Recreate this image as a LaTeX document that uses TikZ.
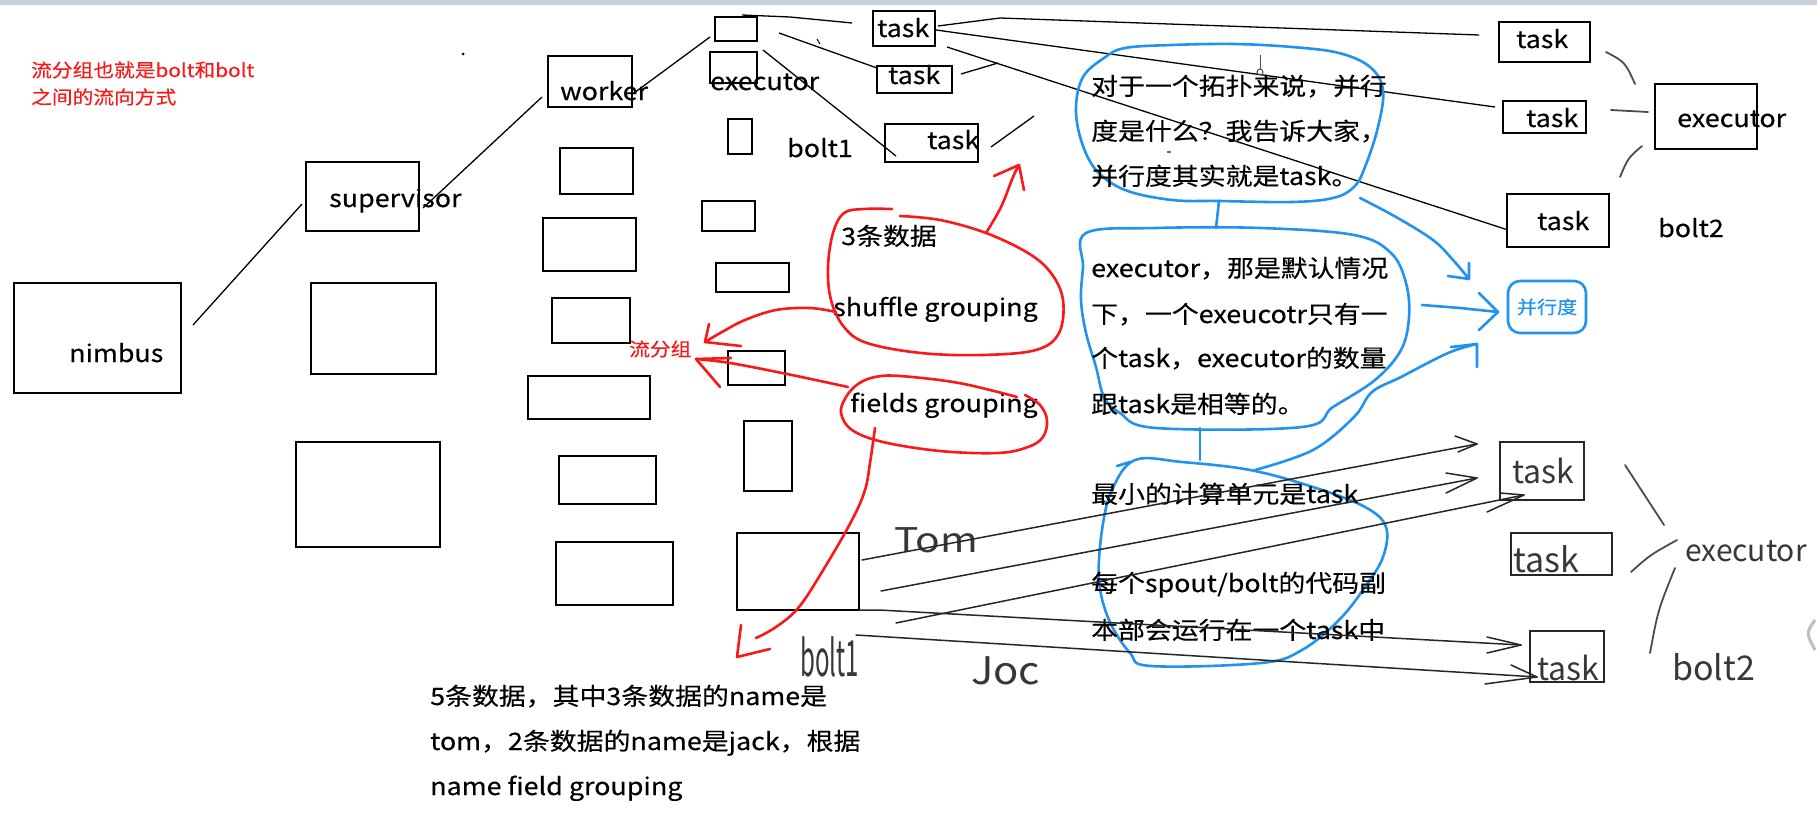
\documentclass[tikz,border=0pt]{standalone}
\usepackage{fontspec}
\usepackage{graphicx}
\setmainfont{Noto Sans CJK SC}[FakeStretch=1.12,FakeBold=0.3]
\newfontfamily\handfont{Noto Sans CJK SC}
\usetikzlibrary{fit}
\definecolor{penred}{RGB}{250,24,24}
\definecolor{penblue}{RGB}{32,146,240}
\definecolor{topbar}{RGB}{200,208,218}
\definecolor{handgray}{RGB}{55,55,55}
\begin{document}
\begin{tikzpicture}[x=1pt,y=-1pt,
  box/.style={draw=black, line width=1.8pt, inner sep=0pt, fit={#1}},
  hbox/.style={draw=black!85, line width=1.8pt, inner sep=0pt, fit={#1}},
  txt/.style={anchor=base west, inner sep=0pt, font=\fontsize{24}{28}\selectfont, text=black},
  rtxt/.style={anchor=base west, inner sep=0pt, font=\fontsize{18.5}{22}\selectfont, text=penred},
  htxt/.style={anchor=base west, inner sep=0pt, text=handgray},
  conn/.style={draw=black, line width=1.3pt},
  handline/.style={draw=black!85, line width=1.5pt, line cap=round, line join=round},
  graystroke/.style={draw=black!70, line width=1.8pt, line cap=round},
  redpen/.style={draw=penred, line width=2.6pt, line cap=round, line join=round},
  bluepen/.style={draw=penblue, line width=2.6pt, line cap=round, line join=round}]
\useasboundingbox (0,0) rectangle (1817,816);
\fill[white] (0,0) rectangle (1817,816);
\fill[topbar] (0,0) rectangle (1817,5);

% ---------- red note top-left
\node[rtxt] (note1) at (31,77) {流分组也就是bolt和bolt};
\node[rtxt] (note2) at (31,104) {之间的流向方式};
\fill (463,54) circle (1.5);

% ---------- nimbus / supervisor
\node[box={(14,283) (181,393)}] (nimbusbox) {};
\node[txt] (nimbus) at (69,362) {nimbus};
\node[box={(306,162) (419,231)}] (supbox) {};
\node[txt] (sup) at (329,207) {supervisor};
\node[box={(311,283) (436,374)}] (s2) {};
\node[box={(296,442) (440,547)}] (s3) {};

% ---------- worker column
\node[box={(548,56) (632,107)}] (workerbox) {};
\node[txt] (worker) at (560,100) {worker};
\node[box={(560,148) (633,194)}] (w2) {};
\node[box={(543,218) (636,271)}] (w3) {};
\node[box={(552,298) (630,343)}] (w4) {};
\node[box={(528,376) (650,419)}] (w5) {};
\node[box={(559,456) (656,504)}] (w6) {};
\node[box={(556,542) (673,605)}] (w7) {};

% ---------- executor column
\node[box={(715,17) (757,41)}] (e1) {};
\node[box={(710,52) (757,83)}] (e2) {};
\node[txt] (exec1) at (710,90) {executor};
\node[box={(728,119) (752,154)}] (e3) {};
\node[txt] (bolt1) at (787,157) {bolt1};
\node[box={(702,201) (755,231)}] (e4) {};
\node[box={(716,263) (789,292)}] (e5) {};
\node[box={(728,351) (785,385)}] (e6) {};
\node[box={(744,421) (792,491)}] (e7) {};
\node[box={(737,533) (859,610)}] (e8) {};

% ---------- bolt1 tasks
\node[box={(873,11) (935,46)}] (t1) {};
\node[txt] (t1t) at (877,37) {task};
\node[box={(877,66) (952,93)}] (t2) {};
\node[txt] (t2t) at (888,84) {task};
\node[box={(885,124) (978,162)}] (t3) {};
\node[txt] (t3t) at (927,149) {task};

% ---------- bolt2 tasks
\node[box={(1499,22) (1590,62)}] (u1) {};
\node[txt] (u1t) at (1516,48) {task};
\node[box={(1503,101) (1586,133)}] (u2) {};
\node[txt] (u2t) at (1526,127) {task};
\node[box={(1507,194) (1609,247)}] (u3) {};
\node[txt] (u3t) at (1537,230) {task};
\node[box={(1655,84) (1757,149)}] (ex2) {};
\node[txt] (ex2t) at (1677,127) {executor};
\node[txt] (bolt2) at (1658,237) {bolt2};

% ---------- black connectors
\coordinate (a1) at (193,325); \coordinate (a2) at (302,204);
\draw[conn] (a1) -- (a2);
\coordinate (b1) at (423,208); \coordinate (b2) at (542,97);
\draw[conn] (b1) -- (b2);
\coordinate (c1) at (634,93); \coordinate (c2) at (710,37);
\draw[conn] (c1) -- (c2);
\coordinate (d1) at (742,15); \coordinate (d2) at (852,23);
\draw[conn] (d1) -- (790,17) -- (d2);
\coordinate (f1) at (779,33); \coordinate (f2) at (877,68);
\draw[conn] (f1) -- (f2);
\coordinate (g1) at (763,50); \coordinate (g2) at (896,156);
\draw[conn] (g1) -- (g2);
\coordinate (h1) at (991,147); \coordinate (h2) at (1034,116);
\draw[conn] (h1) -- (h2);
\coordinate (i1) at (961,74); \coordinate (i2) at (998,63);
\draw[conn] (i1) -- (i2);
\draw[conn, line width=1pt] (817,39) -- (820,44);
\coordinate (j1) at (938,26); \coordinate (j2) at (1479,35);
\draw[conn] (j1) -- (1000,18) -- (j2);
\coordinate (k1) at (936,30); \coordinate (k2) at (1495,107);
\draw[conn] (k1) -- (k2);
\coordinate (l1) at (947,47); \coordinate (l2) at (1508,230);
\draw[conn] (l1) -- (l2);

% curves to bolt2 executor
\coordinate (m1) at (1606,52); \coordinate (m2) at (1635,84);
\draw[graystroke] (m1) .. controls (1625,62) .. (m2);
\coordinate (m3) at (1611,110); \coordinate (m4) at (1648,112);
\draw[graystroke] (m3) -- (m4);
\coordinate (m5) at (1642,146); \coordinate (m6) at (1620,177);
\draw[graystroke] (m5) .. controls (1628,158) .. (m6);

% ---------- blue bubbles
\draw[bluepen] plot[smooth cycle, tension=0.6] coordinates {(1125,48) (1172,45) (1234,44) (1292,47) (1339,53) (1370,67) (1383,90) (1378,127) (1365,167) (1354,187) (1333,198) (1292,202) (1219,201) (1172,200) (1125,190) (1096,170) (1081,140) (1076,107) (1083,77) (1104,58)};
\draw[bluepen] plot[smooth cycle, tension=0.6] coordinates {(1086,233) (1156,228) (1261,228) (1354,235) (1391,253) (1406,283) (1409,317) (1401,350) (1375,380) (1333,407) (1302,427) (1156,428) (1120,413) (1104,397) (1096,367) (1086,333) (1081,300) (1083,267)};
\draw[bluepen] plot[smooth cycle, tension=0.6] coordinates {(1135,460) (1182,462) (1250,470) (1313,487) (1365,507) (1386,527) (1383,557) (1365,587) (1339,620) (1302,650) (1261,663) (1151,666) (1130,653) (1109,620) (1099,580) (1102,530) (1112,490)};
\draw[bluepen] (1117,466) -- (1130,462);
\coordinate (bb1) at (1219,201); \coordinate (bb2) at (1216,228);
\draw[bluepen] (bb1) -- (bb2);
\coordinate (bb3) at (1200,428); \coordinate (bb4) at (1200,460);
\draw[bluepen] (bb3) -- (bb4);

% bubble texts
\node[txt] (p1) at (1091,95) {对于一个拓扑来说，并行};
\node[txt] (p2) at (1091,140) {度是什么？我告诉大家，};
\node[txt] (p3) at (1091,185) {并行度其实就是task。};
\node[txt] (q1) at (1091,277) {executor，那是默认情况};
\node[txt] (q2) at (1091,323) {下，一个exeucotr只有一};
\node[txt] (q3) at (1091,367) {个task，executor的数量};
\node[txt] (q4) at (1091,413) {跟task是相等的。};
\node[txt] (r1) at (1091,503) {最小的计算单元是task};
\node[txt] (r2) at (1091,592) {每个spout/bolt的代码副};
\node[txt] (r3) at (1091,639) {本部会运行在一个task中};

% cursor mark
\draw[black!70, line width=1pt] (1260,55) -- (1260,69);
\draw[black!70, line width=1pt] (1260,72) circle (3);
\draw[black!60, line width=1.5pt] (1167,152) -- (1171,152);

% parallelism box
\node[draw=penblue, line width=2.6pt, rounded corners=12pt, minimum width=78pt, minimum height=52pt, inner sep=0pt, text=penblue, font=\fontsize{18}{22}\selectfont] (para) at (1547,307) {并行度};
\coordinate (ba1) at (1360,198); \coordinate (ba2) at (1469,279);
\draw[bluepen] plot[smooth, tension=0.6] coordinates {(ba1) (1396,217) (1433,240) (1453,260) (ba2)};
\draw[bluepen] (1448,276) -- (ba2) -- (1469,263);
\coordinate (bc1) at (1422,305); \coordinate (bc2) at (1498,312);
\draw[bluepen] (bc1) -- (1460,308) -- (bc2);
\draw[bluepen] (1479,293) -- (bc2) -- (1479,330);
\coordinate (bd1) at (1255,470); \coordinate (bd2) at (1477,344);
\draw[bluepen] plot[smooth, tension=0.6] coordinates {(bd1) (1313,450) (1354,417) (1372,392) (1401,377) (1448,353) (bd2)};
\draw[bluepen] (1451,347) -- (bd2) -- (1477,367);

% ---------- red marks
\node[txt] (three) at (841,245) {3条数据};
\node[txt] (shuffle) at (833,316) {shuffle grouping};
\node[txt] (fields) at (850,412) {fields grouping};
\node[rtxt] (liu) at (629,356) {流分组};
\draw[redpen] plot[smooth, tension=0.6] coordinates {(892,209) (864,209) (844,213) (833,233) (828,267) (831,300) (844,327) (867,343) (921,353) (982,355) (1036,350) (1059,333) (1063,300) (1051,273) (1028,253) (986,233) (940,220) (900,216)};
\coordinate (ra1) at (986,233); \coordinate (ra2) at (1019,165);
\draw[redpen] plot[smooth, tension=0.6] coordinates {(ra1) (1001,207) (1013,177) (ra2)};
\draw[redpen] (994,176) -- (ra2) -- (1024,190);
\coordinate (rb1) at (836,312); \coordinate (rb2) at (705,342);
\draw[redpen] plot[smooth, tension=0.6] coordinates {(rb1) (810,308) (776,310) (745,320) (722,332) (rb2)};
\draw[redpen] (709,324) -- (rb2) -- (741,346);
\coordinate (rc1) at (848,387); \coordinate (rc2) at (696,359);
\draw[redpen] plot[smooth, tension=0.6] coordinates {(rc1) (787,374) (730,363) (rc2)};
\draw[redpen] (731,358) -- (rc2) -- (720,387);
\draw[redpen] plot[smooth, tension=0.6] coordinates {(1017,397) (959,383) (900,376) (875,377) (858,384) (846,397) (841,413) (852,430) (883,442) (940,451) (998,453) (1028,447) (1043,437) (1047,420) (1040,405) (1025,395)};
\coordinate (rd1) at (875,428); \coordinate (rd2) at (756,638);
\draw[redpen] plot[smooth, tension=0.6] coordinates {(rd1) (870,463) (865,490) (852,520) (825,567) (799,607) (776,627) (rd2)};
\draw[redpen] (741,625) -- (737,657) -- (770,649);

% ---------- bottom text
\node[txt] (bt1) at (430,705) {5条数据，其中3条数据的name是};
\node[txt] (bt2) at (430,750) {tom，2条数据的name是jack，根据};
\node[txt] (bt3) at (430,795) {name field grouping};

% ---------- hand-drawn lower right
\node[hbox={(1500,442) (1584,500)}] (hA) {};
\node[hbox={(1511,533) (1612,575)}] (hB) {};
\node[hbox={(1530,631) (1604,682)}] (hC) {};
\node[htxt, font=\handfont\fontsize{32}{32}\selectfont] (hAt) at (1512,483) {task};
\node[htxt, font=\handfont\fontsize{34}{34}\selectfont] (hBt) at (1513,572) {task};
\node[htxt, font=\handfont\fontsize{32}{32}\selectfont] (hCt) at (1537,680) {task};
\node[htxt, font=\handfont\fontsize{30}{30}\selectfont] (hex) at (1685,561) {executor};
\node[htxt, font=\handfont\fontsize{34}{34}\selectfont] (hb2) at (1672,680) {bolt2};
\node[htxt, font=\handfont\fontsize{34}{34}\selectfont] (tom) at (894,552) {\scalebox{1.2}[1]{Tom}};
\node[htxt, font=\handfont\fontsize{38}{38}\selectfont] (joc) at (971,684) {\scalebox{1.1}[1]{Joc}};
\node[htxt, font=\handfont\fontsize{50}{50}\selectfont] (hb1) at (800,676) {\scalebox{0.48}[1]{bolt1}};

\coordinate (x1s) at (862,560); \coordinate (x1e) at (1477,444);
\draw[handline] (x1s) -- (x1e);
\draw[handline] (1455,436) -- (x1e) -- (1458,452);
\coordinate (x2s) at (881,591); \coordinate (x2e) at (1477,478);
\draw[handline] (x2s) -- (x2e);
\draw[handline] (1446,473) -- (x2e) -- (1446,493);
\coordinate (x3s) at (896,623); \coordinate (x3e) at (1524,495);
\draw[handline] (x3s) -- (x3e);
\draw[handline] (1500,493) -- (x3e) -- (1487,512);
\coordinate (x4s) at (859,610); \coordinate (x4e) at (1521,645);
\draw[handline] (x4s) -- (879,610) -- (x4e);
\draw[handline] (1487,637) -- (x4e) -- (1487,653);
\coordinate (x5s) at (856,635); \coordinate (x5e) at (1537,677);
\draw[handline] (x5s) -- (x5e);
\draw[handline] (1511,665) -- (x5e) -- (1485,684);

\coordinate (g1a) at (1625,465); \coordinate (g1b) at (1664,525);
\draw[graystroke] (g1a) -- (g1b);
\coordinate (g2a) at (1631,572); \coordinate (g2b) at (1677,540);
\draw[graystroke] (g2a) .. controls (1650,555) .. (g2b);
\coordinate (g3a) at (1675,568); \coordinate (g3b) at (1650,653);
\draw[graystroke] (g3a) .. controls (1658,610) .. (g3b);

\draw[black!25, line width=3pt] (1815,620) .. controls (1806,633) .. (1815,650);
\end{tikzpicture}
\end{document}
